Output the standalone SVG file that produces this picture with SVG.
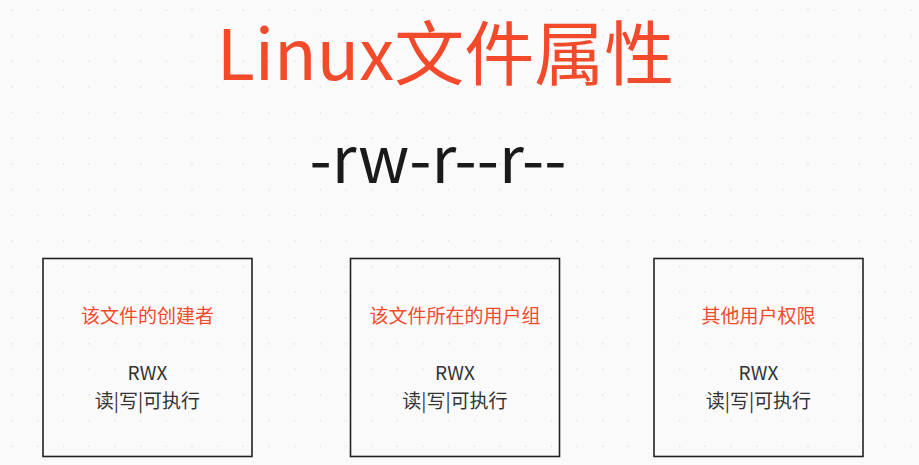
<svg xmlns="http://www.w3.org/2000/svg" width="919" height="465" viewBox="0 0 919 465">
<defs>
<pattern id="dots" x="0" y="0" width="25.67" height="25.67" patternUnits="userSpaceOnUse">
<rect x="11.6" y="9.3" width="1.4" height="1.4" fill="#d9d9d9"/>
</pattern>
</defs>
<style>
text{font-family:"Noto Sans CJK SC","Noto Sans",sans-serif;text-anchor:middle}
.title{font-size:70px;fill:#f24a2b}
.perm{font-size:64px;fill:#1a1a1a}
.box{fill:none;stroke:#222;stroke-width:1.6}
.head{font-size:19px;fill:#f24a2b}
.body{font-size:19px;fill:#333}
</style>
<rect width="919" height="465" fill="#fafafa"/>
<rect width="919" height="465" fill="url(#dots)"/>
<g id="title"><text class="title" x="445.5" y="80">Linux文件属性</text></g>
<g id="perm"><text class="perm" x="438" y="183">-rw-r--r--</text></g>
<g id="owner">
<rect class="box" x="43" y="258.5" width="209" height="198"/>
<text class="head" x="147.5" y="323">该文件的创建者</text>
<text class="body" x="147.5" y="380">RWX</text>
<text class="body" x="147.5" y="408">读|写|可执行</text>
</g>
<g id="group">
<rect class="box" x="350.5" y="258.5" width="209" height="198"/>
<text class="head" x="455" y="323">该文件所在的用户组</text>
<text class="body" x="455" y="380">RWX</text>
<text class="body" x="455" y="408">读|写|可执行</text>
</g>
<g id="others">
<rect class="box" x="654" y="258.5" width="209" height="198"/>
<text class="head" x="758.5" y="323">其他用户权限</text>
<text class="body" x="758.5" y="380">RWX</text>
<text class="body" x="758.5" y="408">读|写|可执行</text>
</g>
<g id="connectors"></g>
</svg>
